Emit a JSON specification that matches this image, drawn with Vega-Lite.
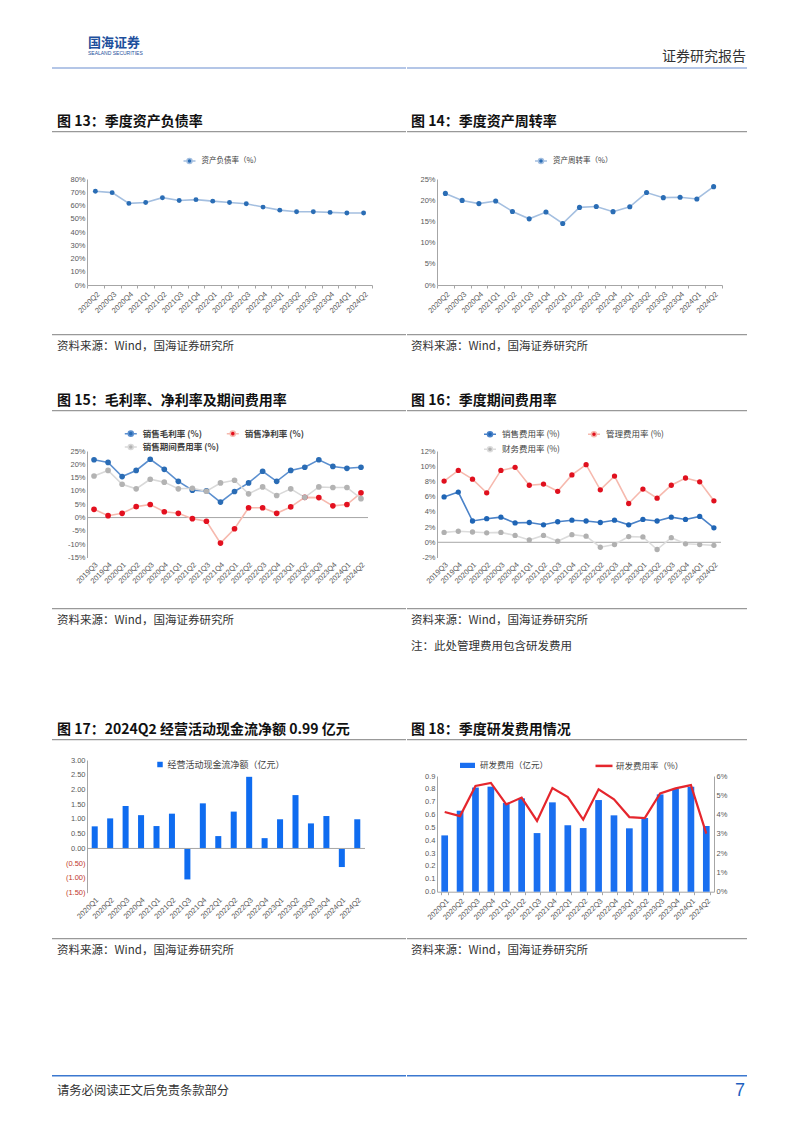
{
  "$schema": "https://vega.github.io/schema/vega-lite/v6.json",
  "padding": {"left": 52, "top": 0, "right": 20, "bottom": 10},
  "background": "white",
  "bounds": "flush",
  "spacing": 0,
  "resolve": {"scale": {"x": "independent", "y": "independent", "fill": "independent", "stroke": "independent"}, "legend": {"fill": "independent", "stroke": "independent"}},
  "config": {
    "view": {"stroke": null},
    "font": "Noto Sans CJK SC",
    "axis": {"labelFont": "Liberation Sans", "labelFontSize": 7.5, "labelColor": "#595959", "domainColor": "#a6a6a6", "tickColor": "#a6a6a6", "grid": false, "tickSize": 3, "labelPadding": 2, "labelOverlap": false, "labelBound": false},
    "legend": {"labelFont": "Noto Sans CJK SC", "labelColor": "#404040", "padding": 0, "labelOffset": 5, "direction": "horizontal"},
    "title": {"font": "Noto Sans CJK SC", "color": "#1a1a1a", "anchor": "start", "fontWeight": "normal"}
  },
  "datasets": {
    "empty": [],
    "d13": [
      {"q": "2020Q2", "s": "资产负债率（%）", "v": 70.7},
      {"q": "2020Q3", "s": "资产负债率（%）", "v": 69.7},
      {"q": "2020Q4", "s": "资产负债率（%）", "v": 61.6},
      {"q": "2021Q1", "s": "资产负债率（%）", "v": 62.3},
      {"q": "2021Q2", "s": "资产负债率（%）", "v": 65.9},
      {"q": "2021Q3", "s": "资产负债率（%）", "v": 63.8},
      {"q": "2021Q4", "s": "资产负债率（%）", "v": 64.4},
      {"q": "2022Q1", "s": "资产负债率（%）", "v": 63.3},
      {"q": "2022Q2", "s": "资产负债率（%）", "v": 62.3},
      {"q": "2022Q3", "s": "资产负债率（%）", "v": 61.3},
      {"q": "2022Q4", "s": "资产负债率（%）", "v": 58.8},
      {"q": "2023Q1", "s": "资产负债率（%）", "v": 56.5},
      {"q": "2023Q2", "s": "资产负债率（%）", "v": 55.3},
      {"q": "2023Q3", "s": "资产负债率（%）", "v": 55.3},
      {"q": "2023Q4", "s": "资产负债率（%）", "v": 54.8},
      {"q": "2024Q1", "s": "资产负债率（%）", "v": 54.3},
      {"q": "2024Q2", "s": "资产负债率（%）", "v": 54.3}
    ],
    "d14": [
      {"q": "2020Q2", "s": "资产周转率（%）", "v": 21.6},
      {"q": "2020Q3", "s": "资产周转率（%）", "v": 19.95},
      {"q": "2020Q4", "s": "资产周转率（%）", "v": 19.2},
      {"q": "2021Q1", "s": "资产周转率（%）", "v": 19.8},
      {"q": "2021Q2", "s": "资产周转率（%）", "v": 17.35},
      {"q": "2021Q3", "s": "资产周转率（%）", "v": 15.6},
      {"q": "2021Q4", "s": "资产周转率（%）", "v": 17.2},
      {"q": "2022Q1", "s": "资产周转率（%）", "v": 14.5},
      {"q": "2022Q2", "s": "资产周转率（%）", "v": 18.3},
      {"q": "2022Q3", "s": "资产周转率（%）", "v": 18.5},
      {"q": "2022Q4", "s": "资产周转率（%）", "v": 17.3},
      {"q": "2023Q1", "s": "资产周转率（%）", "v": 18.45},
      {"q": "2023Q2", "s": "资产周转率（%）", "v": 21.8},
      {"q": "2023Q3", "s": "资产周转率（%）", "v": 20.6},
      {"q": "2023Q4", "s": "资产周转率（%）", "v": 20.7},
      {"q": "2024Q1", "s": "资产周转率（%）", "v": 20.3},
      {"q": "2024Q2", "s": "资产周转率（%）", "v": 23.2}
    ],
    "d15": [
      {"q": "2019Q3", "s": "销售毛利率 (%)", "v": 21.7},
      {"q": "2019Q4", "s": "销售毛利率 (%)", "v": 20.7},
      {"q": "2020Q1", "s": "销售毛利率 (%)", "v": 15.4},
      {"q": "2020Q2", "s": "销售毛利率 (%)", "v": 17.7},
      {"q": "2020Q3", "s": "销售毛利率 (%)", "v": 21.9},
      {"q": "2020Q4", "s": "销售毛利率 (%)", "v": 18.1},
      {"q": "2021Q1", "s": "销售毛利率 (%)", "v": 13.6},
      {"q": "2021Q2", "s": "销售毛利率 (%)", "v": 10.3},
      {"q": "2021Q3", "s": "销售毛利率 (%)", "v": 10.0},
      {"q": "2021Q4", "s": "销售毛利率 (%)", "v": 5.8},
      {"q": "2022Q1", "s": "销售毛利率 (%)", "v": 9.8},
      {"q": "2022Q2", "s": "销售毛利率 (%)", "v": 13.0},
      {"q": "2022Q3", "s": "销售毛利率 (%)", "v": 17.4},
      {"q": "2022Q4", "s": "销售毛利率 (%)", "v": 13.6},
      {"q": "2023Q1", "s": "销售毛利率 (%)", "v": 17.7},
      {"q": "2023Q2", "s": "销售毛利率 (%)", "v": 18.9},
      {"q": "2023Q3", "s": "销售毛利率 (%)", "v": 21.7},
      {"q": "2023Q4", "s": "销售毛利率 (%)", "v": 19.2},
      {"q": "2024Q1", "s": "销售毛利率 (%)", "v": 18.5},
      {"q": "2024Q2", "s": "销售毛利率 (%)", "v": 18.9},
      {"q": "2019Q3", "s": "销售净利率 (%)", "v": 3.1},
      {"q": "2019Q4", "s": "销售净利率 (%)", "v": 0.7},
      {"q": "2020Q1", "s": "销售净利率 (%)", "v": 1.6},
      {"q": "2020Q2", "s": "销售净利率 (%)", "v": 4.1},
      {"q": "2020Q3", "s": "销售净利率 (%)", "v": 4.9},
      {"q": "2020Q4", "s": "销售净利率 (%)", "v": 2.2},
      {"q": "2021Q1", "s": "销售净利率 (%)", "v": 1.6},
      {"q": "2021Q2", "s": "销售净利率 (%)", "v": -0.4},
      {"q": "2021Q3", "s": "销售净利率 (%)", "v": -1.4},
      {"q": "2021Q4", "s": "销售净利率 (%)", "v": -9.6},
      {"q": "2022Q1", "s": "销售净利率 (%)", "v": -4.2},
      {"q": "2022Q2", "s": "销售净利率 (%)", "v": 3.7},
      {"q": "2022Q3", "s": "销售净利率 (%)", "v": 3.7},
      {"q": "2022Q4", "s": "销售净利率 (%)", "v": 1.6},
      {"q": "2023Q1", "s": "销售净利率 (%)", "v": 4.0},
      {"q": "2023Q2", "s": "销售净利率 (%)", "v": 7.6},
      {"q": "2023Q3", "s": "销售净利率 (%)", "v": 7.5},
      {"q": "2023Q4", "s": "销售净利率 (%)", "v": 4.4},
      {"q": "2024Q1", "s": "销售净利率 (%)", "v": 4.9},
      {"q": "2024Q2", "s": "销售净利率 (%)", "v": 9.3},
      {"q": "2019Q3", "s": "销售期间费用率 (%)", "v": 15.6},
      {"q": "2019Q4", "s": "销售期间费用率 (%)", "v": 17.7},
      {"q": "2020Q1", "s": "销售期间费用率 (%)", "v": 12.5},
      {"q": "2020Q2", "s": "销售期间费用率 (%)", "v": 10.8},
      {"q": "2020Q3", "s": "销售期间费用率 (%)", "v": 14.4},
      {"q": "2020Q4", "s": "销售期间费用率 (%)", "v": 13.3},
      {"q": "2021Q1", "s": "销售期间费用率 (%)", "v": 10.8},
      {"q": "2021Q2", "s": "销售期间费用率 (%)", "v": 11.0},
      {"q": "2021Q3", "s": "销售期间费用率 (%)", "v": 9.9},
      {"q": "2021Q4", "s": "销售期间费用率 (%)", "v": 13.0},
      {"q": "2022Q1", "s": "销售期间费用率 (%)", "v": 14.0},
      {"q": "2022Q2", "s": "销售期间费用率 (%)", "v": 8.9},
      {"q": "2022Q3", "s": "销售期间费用率 (%)", "v": 11.5},
      {"q": "2022Q4", "s": "销售期间费用率 (%)", "v": 8.3},
      {"q": "2023Q1", "s": "销售期间费用率 (%)", "v": 10.8},
      {"q": "2023Q2", "s": "销售期间费用率 (%)", "v": 7.6},
      {"q": "2023Q3", "s": "销售期间费用率 (%)", "v": 11.5},
      {"q": "2023Q4", "s": "销售期间费用率 (%)", "v": 11.3},
      {"q": "2024Q1", "s": "销售期间费用率 (%)", "v": 11.3},
      {"q": "2024Q2", "s": "销售期间费用率 (%)", "v": 7.1}
    ],
    "d16": [
      {"q": "2019Q3", "s": "销售费用率 (%)", "v": 5.96},
      {"q": "2019Q4", "s": "销售费用率 (%)", "v": 6.6},
      {"q": "2020Q1", "s": "销售费用率 (%)", "v": 2.8},
      {"q": "2020Q2", "s": "销售费用率 (%)", "v": 3.1},
      {"q": "2020Q3", "s": "销售费用率 (%)", "v": 3.3},
      {"q": "2020Q4", "s": "销售费用率 (%)", "v": 2.55},
      {"q": "2021Q1", "s": "销售费用率 (%)", "v": 2.6},
      {"q": "2021Q2", "s": "销售费用率 (%)", "v": 2.3},
      {"q": "2021Q3", "s": "销售费用率 (%)", "v": 2.7},
      {"q": "2021Q4", "s": "销售费用率 (%)", "v": 2.9},
      {"q": "2022Q1", "s": "销售费用率 (%)", "v": 2.8},
      {"q": "2022Q2", "s": "销售费用率 (%)", "v": 2.6},
      {"q": "2022Q3", "s": "销售费用率 (%)", "v": 2.9},
      {"q": "2022Q4", "s": "销售费用率 (%)", "v": 2.3},
      {"q": "2023Q1", "s": "销售费用率 (%)", "v": 3.0},
      {"q": "2023Q2", "s": "销售费用率 (%)", "v": 2.8},
      {"q": "2023Q3", "s": "销售费用率 (%)", "v": 3.3},
      {"q": "2023Q4", "s": "销售费用率 (%)", "v": 3.0},
      {"q": "2024Q1", "s": "销售费用率 (%)", "v": 3.4},
      {"q": "2024Q2", "s": "销售费用率 (%)", "v": 1.9},
      {"q": "2019Q3", "s": "管理费用率 (%)", "v": 8.05},
      {"q": "2019Q4", "s": "管理费用率 (%)", "v": 9.45},
      {"q": "2020Q1", "s": "管理费用率 (%)", "v": 8.3},
      {"q": "2020Q2", "s": "管理费用率 (%)", "v": 6.5},
      {"q": "2020Q3", "s": "管理费用率 (%)", "v": 9.45},
      {"q": "2020Q4", "s": "管理费用率 (%)", "v": 9.85},
      {"q": "2021Q1", "s": "管理费用率 (%)", "v": 7.5},
      {"q": "2021Q2", "s": "管理费用率 (%)", "v": 7.65},
      {"q": "2021Q3", "s": "管理费用率 (%)", "v": 6.7},
      {"q": "2021Q4", "s": "管理费用率 (%)", "v": 8.85},
      {"q": "2022Q1", "s": "管理费用率 (%)", "v": 10.2},
      {"q": "2022Q2", "s": "管理费用率 (%)", "v": 6.9},
      {"q": "2022Q3", "s": "管理费用率 (%)", "v": 8.7},
      {"q": "2022Q4", "s": "管理费用率 (%)", "v": 5.1},
      {"q": "2023Q1", "s": "管理费用率 (%)", "v": 7.0},
      {"q": "2023Q2", "s": "管理费用率 (%)", "v": 5.8},
      {"q": "2023Q3", "s": "管理费用率 (%)", "v": 7.5},
      {"q": "2023Q4", "s": "管理费用率 (%)", "v": 8.45},
      {"q": "2024Q1", "s": "管理费用率 (%)", "v": 7.95},
      {"q": "2024Q2", "s": "管理费用率 (%)", "v": 5.45},
      {"q": "2019Q3", "s": "财务费用率 (%)", "v": 1.3},
      {"q": "2019Q4", "s": "财务费用率 (%)", "v": 1.45},
      {"q": "2020Q1", "s": "财务费用率 (%)", "v": 1.35},
      {"q": "2020Q2", "s": "财务费用率 (%)", "v": 1.25},
      {"q": "2020Q3", "s": "财务费用率 (%)", "v": 1.3},
      {"q": "2020Q4", "s": "财务费用率 (%)", "v": 0.9},
      {"q": "2021Q1", "s": "财务费用率 (%)", "v": 0.3},
      {"q": "2021Q2", "s": "财务费用率 (%)", "v": 0.9},
      {"q": "2021Q3", "s": "财务费用率 (%)", "v": 0.15},
      {"q": "2021Q4", "s": "财务费用率 (%)", "v": 1.0},
      {"q": "2022Q1", "s": "财务费用率 (%)", "v": 0.8},
      {"q": "2022Q2", "s": "财务费用率 (%)", "v": -0.65},
      {"q": "2022Q3", "s": "财务费用率 (%)", "v": -0.3},
      {"q": "2022Q4", "s": "财务费用率 (%)", "v": 0.75},
      {"q": "2023Q1", "s": "财务费用率 (%)", "v": 0.7},
      {"q": "2023Q2", "s": "财务费用率 (%)", "v": -0.95},
      {"q": "2023Q3", "s": "财务费用率 (%)", "v": 0.6},
      {"q": "2023Q4", "s": "财务费用率 (%)", "v": -0.2},
      {"q": "2024Q1", "s": "财务费用率 (%)", "v": -0.3},
      {"q": "2024Q2", "s": "财务费用率 (%)", "v": -0.4}
    ],
    "d17": [
      {"q": "2020Q1", "s": "经营活动现金流净额（亿元）", "v": 0.75},
      {"q": "2020Q2", "s": "经营活动现金流净额（亿元）", "v": 1.02},
      {"q": "2020Q3", "s": "经营活动现金流净额（亿元）", "v": 1.44},
      {"q": "2020Q4", "s": "经营活动现金流净额（亿元）", "v": 1.13},
      {"q": "2021Q1", "s": "经营活动现金流净额（亿元）", "v": 0.76},
      {"q": "2021Q2", "s": "经营活动现金流净额（亿元）", "v": 1.18},
      {"q": "2021Q3", "s": "经营活动现金流净额（亿元）", "v": -1.05},
      {"q": "2021Q4", "s": "经营活动现金流净额（亿元）", "v": 1.53},
      {"q": "2022Q1", "s": "经营活动现金流净额（亿元）", "v": 0.42},
      {"q": "2022Q2", "s": "经营活动现金流净额（亿元）", "v": 1.25},
      {"q": "2022Q3", "s": "经营活动现金流净额（亿元）", "v": 2.43},
      {"q": "2022Q4", "s": "经营活动现金流净额（亿元）", "v": 0.35},
      {"q": "2023Q1", "s": "经营活动现金流净额（亿元）", "v": 0.99},
      {"q": "2023Q2", "s": "经营活动现金流净额（亿元）", "v": 1.81},
      {"q": "2023Q3", "s": "经营活动现金流净额（亿元）", "v": 0.85},
      {"q": "2023Q4", "s": "经营活动现金流净额（亿元）", "v": 1.10},
      {"q": "2024Q1", "s": "经营活动现金流净额（亿元）", "v": -0.63},
      {"q": "2024Q2", "s": "经营活动现金流净额（亿元）", "v": 0.99}
    ],
    "d18": [
      {"q": "2020Q1", "s1": "研发费用（亿元）", "s2": "研发费用率（%）", "amt": 0.438, "rate": 4.13},
      {"q": "2020Q2", "s1": "研发费用（亿元）", "s2": "研发费用率（%）", "amt": 0.63, "rate": 3.92},
      {"q": "2020Q3", "s1": "研发费用（亿元）", "s2": "研发费用率（%）", "amt": 0.81, "rate": 5.48},
      {"q": "2020Q4", "s1": "研发费用（亿元）", "s2": "研发费用率（%）", "amt": 0.817, "rate": 5.64},
      {"q": "2021Q1", "s1": "研发费用（亿元）", "s2": "研发费用率（%）", "amt": 0.69, "rate": 4.53},
      {"q": "2021Q2", "s1": "研发费用（亿元）", "s2": "研发费用率（%）", "amt": 0.726, "rate": 4.88},
      {"q": "2021Q3", "s1": "研发费用（亿元）", "s2": "研发费用率（%）", "amt": 0.456, "rate": 3.67},
      {"q": "2021Q4", "s1": "研发费用（亿元）", "s2": "研发费用率（%）", "amt": 0.695, "rate": 5.38},
      {"q": "2022Q1", "s1": "研发费用（亿元）", "s2": "研发费用率（%）", "amt": 0.516, "rate": 4.91},
      {"q": "2022Q2", "s1": "研发费用（亿元）", "s2": "研发费用率（%）", "amt": 0.495, "rate": 3.74},
      {"q": "2022Q3", "s1": "研发费用（亿元）", "s2": "研发费用率（%）", "amt": 0.713, "rate": 5.31},
      {"q": "2022Q4", "s1": "研发费用（亿元）", "s2": "研发费用率（%）", "amt": 0.594, "rate": 4.79},
      {"q": "2023Q1", "s1": "研发费用（亿元）", "s2": "研发费用率（%）", "amt": 0.493, "rate": 3.87},
      {"q": "2023Q2", "s1": "研发费用（亿元）", "s2": "研发费用率（%）", "amt": 0.573, "rate": 3.82},
      {"q": "2023Q3", "s1": "研发费用（亿元）", "s2": "研发费用率（%）", "amt": 0.757, "rate": 5.10},
      {"q": "2023Q4", "s1": "研发费用（亿元）", "s2": "研发费用率（%）", "amt": 0.80, "rate": 5.36},
      {"q": "2024Q1", "s1": "研发费用（亿元）", "s2": "研发费用率（%）", "amt": 0.817, "rate": 5.53},
      {"q": "2024Q2", "s1": "研发费用（亿元）", "s2": "研发费用率（%）", "amt": 0.511, "rate": 3.01}
    ]
  },
  "hconcat": [
    {
      "vconcat": [
        {"width": 354, "height": 67, "data": {"name": "empty"}, "mark": "point", "view": {"fill": "white"}},
        {"width": 354, "height": 2, "data": {"name": "empty"}, "mark": "point", "view": {"fill": "#b4c6e7"},
         "title": {"text": "国海证券", "subtitle": "SEALAND SECURITIES", "anchor": "start", "dx": 36, "offset": 11, "fontSize": 13, "fontWeight": "bold", "color": "#1d4f9c", "subtitleFontSize": 5, "subtitleColor": "#1d4f9c", "subtitleFont": "Liberation Sans", "subtitlePadding": 1}},
        {"width": 354, "height": 62, "data": {"name": "empty"}, "mark": "point"},
        {"width": 354, "height": 1.3, "data": {"name": "empty"}, "mark": "point", "view": {"fill": "#999999"},
         "title": {"text": "图 13：季度资产负债率", "dx": 5, "offset": 2, "fontSize": 14, "fontWeight": "bold", "color": "#111111"}},
        {"width": 354, "height": 200.7, "data": {"name": "empty"}, "mark": "point"},
        {"width": 354, "height": 1.3, "data": {"name": "empty"}, "mark": "point", "view": {"fill": "#999999"},
         "title": {"text": "资料来源：Wind，国海证券研究所", "orient": "bottom", "dx": 5, "offset": 6, "fontSize": 11.5, "color": "#333333"}},
        {"width": 354, "height": 73.7, "data": {"name": "empty"}, "mark": "point"},
        {"width": 354, "height": 1.3, "data": {"name": "empty"}, "mark": "point", "view": {"fill": "#999999"},
         "title": {"text": "图 15：毛利率、净利率及期间费用率", "dx": 5, "offset": 2, "fontSize": 14, "fontWeight": "bold", "color": "#111111"}},
        {"width": 354, "height": 195.7, "data": {"name": "empty"}, "mark": "point"},
        {"width": 354, "height": 1.3, "data": {"name": "empty"}, "mark": "point", "view": {"fill": "#999999"},
         "title": {"text": "资料来源：Wind，国海证券研究所", "orient": "bottom", "dx": 5, "offset": 6, "fontSize": 11.5, "color": "#333333"}},
        {"width": 354, "height": 128.7, "data": {"name": "empty"}, "mark": "point"},
        {"width": 354, "height": 1.3, "data": {"name": "empty"}, "mark": "point", "view": {"fill": "#999999"},
         "title": {"text": "图 17：2024Q2 经营活动现金流净额 0.99 亿元", "dx": 5, "offset": 2, "fontSize": 14, "fontWeight": "bold", "color": "#111111"}},
        {"width": 354, "height": 196.7, "data": {"name": "empty"}, "mark": "point"},
        {"width": 354, "height": 1.3, "data": {"name": "empty"}, "mark": "point", "view": {"fill": "#999999"},
         "title": {"text": "资料来源：Wind，国海证券研究所", "orient": "bottom", "dx": 5, "offset": 6, "fontSize": 11.5, "color": "#333333"}},
        {"width": 354, "height": 134.7, "data": {"name": "empty"}, "mark": "point"},
        {"width": 354, "height": 1.5, "data": {"name": "empty"}, "mark": "point", "view": {"fill": "#3b78d0"},
         "title": {"text": "请务必阅读正文后免责条款部分", "orient": "bottom", "dx": 5, "offset": 8, "fontSize": 12.3, "color": "#333333"}}
      ],
      "spacing": 0, "bounds": "flush"
    },
    {"width": 34.5, "height": 0, "data": {"name": "empty"}, "mark": "point"},
    {
      "vconcat": [
        {"width": 285, "height": 178.3, "data": {"name": "empty"}, "mark": "point"},
        {
          "width": 285, "height": 106,
          "data": {"name": "d13"},
          "layer": [
            {"mark": {"type": "line", "strokeWidth": 1.6},
             "encoding": {
               "x": {"field": "q", "type": "ordinal", "scale": {"type": "band", "paddingInner": 0, "paddingOuter": 0}, "axis": {"title": null, "labelAngle": -45, "tickBand": "extent"}},
               "y": {"field": "v", "type": "quantitative", "scale": {"domain": [0, 80], "nice": false}, "axis": {"title": null, "values": [0, 10, 20, 30, 40, 50, 60, 70, 80], "labelExpr": "datum.value + '%'", "ticks": false, "labelOverlap": false}},
               "stroke": {"field": "s", "type": "nominal", "scale": {"domain": ["资产负债率（%）"], "range": ["#a4bfe0"]},
                 "legend": {"orient": "none", "legendX": 95.5, "legendY": -25, "title": null, "symbolType": "M-1,0H-0.42M0.42,0H1M0.42,0A0.42,0.42,0,1,1,-0.42,0A0.42,0.42,0,1,1,0.42,0Z", "symbolSize": 144, "symbolStrokeWidth": 1.5, "symbolOpacity": 1, "labelFontSize": 7.5}}
             }},
            {"mark": {"type": "point", "filled": true, "size": 24, "opacity": 1},
             "encoding": {
               "x": {"field": "q", "type": "ordinal"},
               "y": {"field": "v", "type": "quantitative", "axis": {"title": null, "values": [0, 10, 20, 30, 40, 50, 60, 70, 80], "labelExpr": "datum.value + '%'", "ticks": false, "labelOverlap": false}},
               "fill": {"field": "s", "type": "nominal", "scale": {"domain": ["资产负债率（%）"], "range": ["#2a6db5"]},
                 "legend": {"orient": "none", "legendX": 95.5, "legendY": -25, "title": null, "symbolType": "M-1,0H-0.42M0.42,0H1M0.42,0A0.42,0.42,0,1,1,-0.42,0A0.42,0.42,0,1,1,0.42,0Z", "symbolSize": 144, "symbolStrokeWidth": 1.5, "symbolOpacity": 1, "labelFontSize": 7.5}}
             }}
          ]
        },
        {"width": 285, "height": 165.2, "data": {"name": "empty"}, "mark": "point"},
        {
          "width": 281, "height": 106.5,
          "data": {"name": "d15"},
          "layer": [
            {"data": {"values": [{}]}, "mark": {"type": "rule", "color": "#a6a6a6", "strokeWidth": 1},
             "encoding": {"y": {"datum": 0, "type": "quantitative", "axis": {"title": null, "values": [-15, -10, -5, 0, 5, 10, 15, 20, 25], "labelExpr": "datum.value + '%'", "ticks": false, "labelOverlap": false}}}},
            {"mark": {"type": "line", "strokeWidth": 1.6},
             "encoding": {
               "x": {"field": "q", "type": "ordinal", "scale": {"type": "band", "paddingInner": 0, "paddingOuter": 0}, "axis": {"title": null, "labelAngle": -45, "domain": false, "ticks": false, "labelPadding": 3}},
               "y": {"field": "v", "type": "quantitative", "scale": {"domain": [-15, 25], "nice": false}, "axis": {"title": null, "values": [-15, -10, -5, 0, 5, 10, 15, 20, 25], "labelExpr": "datum.value + '%'", "ticks": false, "labelOverlap": false}},
               "stroke": {"field": "s", "type": "nominal", "scale": {"domain": ["销售毛利率 (%)", "销售净利率 (%)", "销售期间费用率 (%)"], "range": ["#5b8fcf", "#f6b9ae", "#d9d9d9"]},
                 "legend": {"orient": "none", "legendX": 36.8, "legendY": -24.6, "columns": 2, "columnPadding": 4, "rowPadding": 0.6, "title": null, "symbolType": "M-1,0H-0.42M0.42,0H1M0.42,0A0.42,0.42,0,1,1,-0.42,0A0.42,0.42,0,1,1,0.42,0Z", "symbolSize": 144, "symbolStrokeWidth": 1.5, "symbolOpacity": 1, "labelFontSize": 8.5, "labelFontWeight": "bold"}}
             }},
            {"mark": {"type": "point", "filled": true, "size": 32, "opacity": 1},
             "encoding": {
               "x": {"field": "q", "type": "ordinal"},
               "y": {"field": "v", "type": "quantitative", "axis": {"title": null, "values": [-15, -10, -5, 0, 5, 10, 15, 20, 25], "labelExpr": "datum.value + '%'", "ticks": false, "labelOverlap": false}},
               "fill": {"field": "s", "type": "nominal", "scale": {"domain": ["销售毛利率 (%)", "销售净利率 (%)", "销售期间费用率 (%)"], "range": ["#2a6cb5", "#e3101f", "#b3b3b3"]},
                 "legend": {"orient": "none", "legendX": 36.8, "legendY": -24.6, "columns": 2, "columnPadding": 4, "rowPadding": 0.6, "title": null, "symbolType": "M-1,0H-0.42M0.42,0H1M0.42,0A0.42,0.42,0,1,1,-0.42,0A0.42,0.42,0,1,1,0.42,0Z", "symbolSize": 144, "symbolStrokeWidth": 1.5, "symbolOpacity": 1, "labelFontSize": 8.5, "labelFontWeight": "bold"}}
             }}
          ]
        },
        {"width": 285, "height": 201.3, "data": {"name": "empty"}, "mark": "point"},
        {
          "width": 278, "height": 132.7,
          "data": {"name": "d17"},
          "layer": [
            {"mark": {"type": "bar"},
             "encoding": {
               "x": {"field": "q", "type": "ordinal", "scale": {"type": "band", "paddingInner": 0.61, "paddingOuter": 0.305}, "axis": {"title": null, "labelAngle": -45, "domain": false, "ticks": false, "labelPadding": 3}},
               "y": {"field": "v", "type": "quantitative", "scale": {"domain": [-1.5, 3], "nice": false}, "axis": {"title": null, "values": [-1.5, -1, -0.5, 0, 0.5, 1, 1.5, 2, 2.5, 3], "labelExpr": "datum.value < 0 ? '(' + format(-datum.value, '.2f') + ')' : format(datum.value, '.2f')", "labelColor": {"condition": {"test": "datum.value < 0", "value": "#c0392b"}, "value": "#595959"}, "ticks": false, "labelOverlap": false}},
               "fill": {"field": "s", "type": "nominal", "scale": {"domain": ["经营活动现金流净额（亿元）"], "range": ["#0f6cf0"]},
                 "legend": {"orient": "none", "legendX": 68.5, "legendY": 0, "title": null, "symbolType": "square", "symbolSize": 30, "labelFontSize": 9, "labelOffset": 3}}
             }},
            {"data": {"values": [{}]}, "mark": {"type": "rule", "color": "#a6a6a6", "strokeWidth": 1},
             "encoding": {"y": {"datum": 0, "type": "quantitative", "axis": {"title": null, "values": [-1.5, -1, -0.5, 0, 0.5, 1, 1.5, 2, 2.5, 3], "labelExpr": "datum.value < 0 ? '(' + format(-datum.value, '.2f') + ')' : format(datum.value, '.2f')", "labelColor": {"condition": {"test": "datum.value < 0", "value": "#c0392b"}, "value": "#595959"}, "ticks": false, "labelOverlap": false}}}}
          ]
        }
      ],
      "spacing": 0, "bounds": "flush",
      "resolve": {"scale": {"x": "independent", "y": "independent", "fill": "independent", "stroke": "independent"}, "legend": {"fill": "independent", "stroke": "independent"}}
    },
    {"width": 319.5, "height": 0, "data": {"name": "empty"}, "mark": "point"},
    {
      "vconcat": [
        {"width": 340, "height": 67, "data": {"name": "empty"}, "mark": "point"},
        {"width": 340, "height": 2, "data": {"name": "empty"}, "mark": "point", "view": {"fill": "#b4c6e7"},
         "title": {"text": "证券研究报告", "anchor": "end", "dx": -1, "offset": 3, "fontSize": 14, "color": "#333333"}},
        {"width": 340, "height": 62, "data": {"name": "empty"}, "mark": "point"},
        {"width": 340, "height": 1.3, "data": {"name": "empty"}, "mark": "point", "view": {"fill": "#999999"},
         "title": {"text": "图 14：季度资产周转率", "dx": 4, "offset": 2, "fontSize": 14, "fontWeight": "bold", "color": "#111111"}},
        {"width": 340, "height": 200.7, "data": {"name": "empty"}, "mark": "point"},
        {"width": 340, "height": 1.3, "data": {"name": "empty"}, "mark": "point", "view": {"fill": "#999999"},
         "title": {"text": "资料来源：Wind，国海证券研究所", "orient": "bottom", "dx": 4, "offset": 6, "fontSize": 11.5, "color": "#333333"}},
        {"width": 340, "height": 73.7, "data": {"name": "empty"}, "mark": "point"},
        {"width": 340, "height": 1.3, "data": {"name": "empty"}, "mark": "point", "view": {"fill": "#999999"},
         "title": {"text": "图 16：季度期间费用率", "dx": 4, "offset": 2, "fontSize": 14, "fontWeight": "bold", "color": "#111111"}},
        {"width": 340, "height": 195.7, "data": {"name": "empty"}, "mark": "point"},
        {"width": 340, "height": 1.3, "data": {"name": "empty"}, "mark": "point", "view": {"fill": "#999999"},
         "title": {"text": ["资料来源：Wind，国海证券研究所", "注：此处管理费用包含研发费用"], "lineHeight": 26, "orient": "bottom", "dx": 4, "offset": 6, "fontSize": 11.5, "color": "#333333"}},
        {"width": 340, "height": 128.7, "data": {"name": "empty"}, "mark": "point"},
        {"width": 340, "height": 1.3, "data": {"name": "empty"}, "mark": "point", "view": {"fill": "#999999"},
         "title": {"text": "图 18：季度研发费用情况", "dx": 4, "offset": 2, "fontSize": 14, "fontWeight": "bold", "color": "#111111"}},
        {"width": 340, "height": 196.7, "data": {"name": "empty"}, "mark": "point"},
        {"width": 340, "height": 1.3, "data": {"name": "empty"}, "mark": "point", "view": {"fill": "#999999"},
         "title": {"text": "资料来源：Wind，国海证券研究所", "orient": "bottom", "dx": 4, "offset": 6, "fontSize": 11.5, "color": "#333333"}},
        {"width": 340, "height": 134.7, "data": {"name": "empty"}, "mark": "point"},
        {"width": 340, "height": 1.5, "data": {"name": "empty"}, "mark": "point", "view": {"fill": "#3b78d0"},
         "title": {"text": "7", "orient": "bottom", "anchor": "end", "dx": -2, "offset": 5, "fontSize": 18, "font": "Liberation Sans", "color": "#1f5fbf"}}
      ],
      "spacing": 0, "bounds": "flush"
    },
    {"width": 30, "height": 0, "data": {"name": "empty"}, "mark": "point"},
    {
      "vconcat": [
        {"width": 285, "height": 178.3, "data": {"name": "empty"}, "mark": "point"},
        {
          "width": 285, "height": 106,
          "data": {"name": "d14"},
          "layer": [
            {"mark": {"type": "line", "strokeWidth": 1.6},
             "encoding": {
               "x": {"field": "q", "type": "ordinal", "scale": {"type": "band", "paddingInner": 0, "paddingOuter": 0}, "axis": {"title": null, "labelAngle": -45, "tickBand": "extent"}},
               "y": {"field": "v", "type": "quantitative", "scale": {"domain": [0, 25], "nice": false}, "axis": {"title": null, "values": [0, 5, 10, 15, 20, 25], "labelExpr": "datum.value + '%'", "ticks": false, "labelOverlap": false}},
               "stroke": {"field": "s", "type": "nominal", "scale": {"domain": ["资产周转率（%）"], "range": ["#a4bfe0"]},
                 "legend": {"orient": "none", "legendX": 97, "legendY": -25, "title": null, "symbolType": "M-1,0H-0.42M0.42,0H1M0.42,0A0.42,0.42,0,1,1,-0.42,0A0.42,0.42,0,1,1,0.42,0Z", "symbolSize": 144, "symbolStrokeWidth": 1.5, "symbolOpacity": 1, "labelFontSize": 7.5}}
             }},
            {"mark": {"type": "point", "filled": true, "size": 26, "opacity": 1},
             "encoding": {
               "x": {"field": "q", "type": "ordinal"},
               "y": {"field": "v", "type": "quantitative", "axis": {"title": null, "values": [0, 5, 10, 15, 20, 25], "labelExpr": "datum.value + '%'", "ticks": false, "labelOverlap": false}},
               "fill": {"field": "s", "type": "nominal", "scale": {"domain": ["资产周转率（%）"], "range": ["#2a6db5"]},
                 "legend": {"orient": "none", "legendX": 97, "legendY": -25, "title": null, "symbolType": "M-1,0H-0.42M0.42,0H1M0.42,0A0.42,0.42,0,1,1,-0.42,0A0.42,0.42,0,1,1,0.42,0Z", "symbolSize": 144, "symbolStrokeWidth": 1.5, "symbolOpacity": 1, "labelFontSize": 7.5}}
             }}
          ]
        },
        {"width": 285, "height": 165.2, "data": {"name": "empty"}, "mark": "point"},
        {
          "width": 284, "height": 106.5,
          "data": {"name": "d16"},
          "layer": [
            {"data": {"values": [{}]}, "mark": {"type": "rule", "color": "#a6a6a6", "strokeWidth": 1},
             "encoding": {"y": {"datum": 0, "type": "quantitative", "axis": {"title": null, "values": [-2, 0, 2, 4, 6, 8, 10, 12], "labelExpr": "datum.value + '%'", "ticks": false, "labelOverlap": false}}}},
            {"mark": {"type": "line", "strokeWidth": 1.6},
             "encoding": {
               "x": {"field": "q", "type": "ordinal", "scale": {"type": "band", "paddingInner": 0, "paddingOuter": 0}, "axis": {"title": null, "labelAngle": -45, "domain": false, "ticks": false, "labelPadding": 3}},
               "y": {"field": "v", "type": "quantitative", "scale": {"domain": [-2, 12], "nice": false}, "axis": {"title": null, "values": [-2, 0, 2, 4, 6, 8, 10, 12], "labelExpr": "datum.value + '%'", "ticks": false, "labelOverlap": false}},
               "stroke": {"field": "s", "type": "nominal", "scale": {"domain": ["销售费用率 (%)", "管理费用率 (%)", "财务费用率 (%)"], "range": ["#4a82c8", "#f6b9ae", "#dcdcdc"]},
                 "legend": {"orient": "none", "legendX": 46, "legendY": -24, "columns": 2, "columnPadding": 25, "rowPadding": 2.3, "title": null, "symbolType": "M-1,0H-0.42M0.42,0H1M0.42,0A0.42,0.42,0,1,1,-0.42,0A0.42,0.42,0,1,1,0.42,0Z", "symbolSize": 144, "symbolStrokeWidth": 1.5, "symbolOpacity": 1, "labelFontSize": 8.5}}
             }},
            {"mark": {"type": "point", "filled": true, "size": 28, "opacity": 1},
             "encoding": {
               "x": {"field": "q", "type": "ordinal"},
               "y": {"field": "v", "type": "quantitative", "axis": {"title": null, "values": [-2, 0, 2, 4, 6, 8, 10, 12], "labelExpr": "datum.value + '%'", "ticks": false, "labelOverlap": false}},
               "fill": {"field": "s", "type": "nominal", "scale": {"domain": ["销售费用率 (%)", "管理费用率 (%)", "财务费用率 (%)"], "range": ["#1f65b5", "#e0101e", "#b0b0b0"]},
                 "legend": {"orient": "none", "legendX": 46, "legendY": -24, "columns": 2, "columnPadding": 25, "rowPadding": 2.3, "title": null, "symbolType": "M-1,0H-0.42M0.42,0H1M0.42,0A0.42,0.42,0,1,1,-0.42,0A0.42,0.42,0,1,1,0.42,0Z", "symbolSize": 144, "symbolStrokeWidth": 1.5, "symbolOpacity": 1, "labelFontSize": 8.5}}
             }}
          ]
        },
        {"width": 285, "height": 217.3, "data": {"name": "empty"}, "mark": "point"},
        {
          "width": 277, "height": 115.7,
          "data": {"name": "d18"},
          "layer": [
            {"mark": {"type": "bar"},
             "encoding": {
               "x": {"field": "q", "type": "ordinal", "scale": {"type": "band", "paddingInner": 0.565, "paddingOuter": 0.2825}, "axis": {"title": null, "labelAngle": -45, "tickBand": "extent"}},
               "y": {"field": "amt", "type": "quantitative", "scale": {"domain": [0, 0.9], "nice": false}, "axis": {"title": null, "values": [0, 0.1, 0.2, 0.3, 0.4, 0.5, 0.6, 0.7, 0.8, 0.9], "format": ".1f", "ticks": false, "labelOverlap": false}},
               "fill": {"field": "s1", "type": "nominal", "scale": {"domain": ["研发费用（亿元）"], "range": ["#1a6ff0"]},
                 "legend": {"orient": "none", "legendX": 22, "legendY": -19.1, "title": null, "symbolType": "M-1,-0.35H1V0.35H-1Z", "symbolSize": 225, "labelFontSize": 8.5, "labelOffset": 4}}
             }},
            {"mark": {"type": "line", "strokeWidth": 2.2},
             "encoding": {
               "x": {"field": "q", "type": "ordinal"},
               "y": {"field": "rate", "type": "quantitative", "scale": {"domain": [0, 6], "nice": false}, "axis": {"title": null, "orient": "right", "values": [0, 1, 2, 3, 4, 5, 6], "labelExpr": "datum.value + '%'", "ticks": false, "labelOverlap": false}},
               "stroke": {"field": "s2", "type": "nominal", "scale": {"domain": ["研发费用率（%）"], "range": ["#e5262d"]},
                 "legend": {"orient": "none", "legendX": 157, "legendY": -20.1, "title": null, "symbolType": "M-1,0H1", "symbolSize": 289, "symbolStrokeWidth": 2.5, "labelFontSize": 8.5, "labelOffset": 2}}
             }}
          ],
          "resolve": {"scale": {"y": "independent"}}
        }
      ],
      "spacing": 0, "bounds": "flush",
      "resolve": {"scale": {"x": "independent", "y": "independent", "fill": "independent", "stroke": "independent"}, "legend": {"fill": "independent", "stroke": "independent"}}
    }
  ]
}
